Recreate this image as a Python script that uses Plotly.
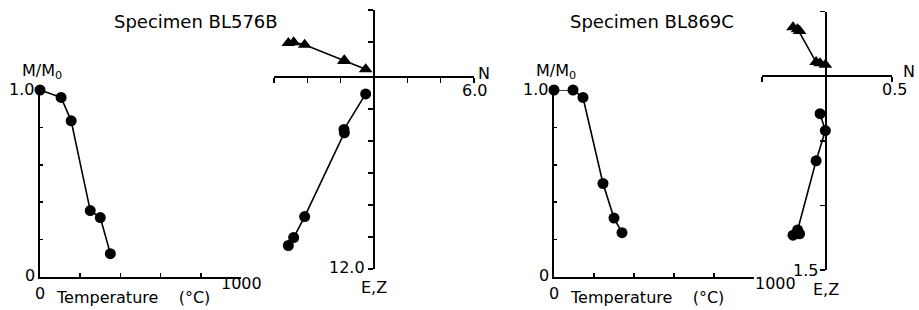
import plotly.graph_objects as go

# ---------------- data ----------------
# Thermal demagnetisation curves (M/M0 vs temperature)
temp_576 = [0, 105, 155, 250, 300, 350]
mm0_576 = [1.0, 0.96, 0.835, 0.355, 0.318, 0.125]
temp_869 = [0, 95, 145, 245, 300, 340]
mm0_869 = [1.0, 1.0, 0.96, 0.50, 0.315, 0.237]

# Orthogonal vector plots (N on horizontal; E = triangles, Z = circles, positive downwards)
n_576 = [-5.14, -4.82, -4.16, -1.78, -1.80, -0.50]
e_576 = [-2.14, -2.18, -2.03, -1.05, -1.01, -0.50]
z_576 = [10.53, 10.03, 8.72, 3.48, 3.27, 1.05]

n_869 = [-0.25, -0.20, -0.215, -0.075, -0.005, -0.045]
e_869 = [-0.38, -0.35, -0.365, -0.11, -0.09, -0.10]
z_869 = [1.23, 1.22, 1.19, 0.654, 0.42, 0.29]

titles = ["Specimen BL576B", "Specimen BL869C"]

# ---------------- layout helpers ----------------
W, H = 919, 310
FONT = "DejaVu Sans"


def xd(a, b):
    return [a / W, b / W]


def yd(top, bottom):
    return [1 - bottom / H, 1 - top / H]


def zero_pos(rng, dom):
    lo, hi = rng
    f = (0 - lo) / (hi - lo)
    return dom[0] + f * (dom[1] - dom[0])


fig = go.Figure()
line_style = dict(color="black", width=1.6)
circ = dict(color="black", size=11)
tri = dict(color="black", size=12, symbol="triangle-up")

# thermal panels
fig.add_trace(go.Scatter(x=temp_576, y=mm0_576, mode="lines+markers", xaxis="x", yaxis="y",
                         line=line_style, marker=circ, cliponaxis=False))
fig.add_trace(go.Scatter(x=temp_869, y=mm0_869, mode="lines+markers", xaxis="x3", yaxis="y3",
                         line=line_style, marker=circ, cliponaxis=False))

# vector plots
fig.add_trace(go.Scatter(x=n_576, y=e_576, mode="lines+markers", xaxis="x2", yaxis="y2",
                         line=line_style, marker=tri, cliponaxis=False))
fig.add_trace(go.Scatter(x=n_576, y=z_576, mode="lines+markers", xaxis="x2", yaxis="y2",
                         line=line_style, marker=circ, cliponaxis=False))
fig.add_trace(go.Scatter(x=n_869, y=e_869, mode="lines+markers", xaxis="x4", yaxis="y4",
                         line=line_style, marker=tri, cliponaxis=False))
fig.add_trace(go.Scatter(x=n_869, y=z_869, mode="lines+markers", xaxis="x4", yaxis="y4",
                         line=line_style, marker=circ, cliponaxis=False))

axbase = dict(showgrid=False, zeroline=False, showline=True, linecolor="black", linewidth=2,
              ticks="inside", tickcolor="black", tickwidth=1.5, showticklabels=False,
              fixedrange=True)

# thermal axes
dx1, dy1 = xd(40, 241), yd(90, 277)
dx3, dy3 = xd(554, 754), yd(90, 277)
therm_x = dict(axbase, range=[0, 1000], tickvals=[200, 400, 600, 800, 1000], ticklen=4)
therm_y = dict(axbase, range=[0, 1.0], tickvals=[0.2, 0.4, 0.6, 0.8], ticklen=3)

# vector plot axes
rx2, ry2 = [-6, 6], [12, -4.2]
dx2, dy2 = xd(274, 474), yd(10, 269)
rx4, ry4 = [-0.485, 0.5], [1.5, -0.5]
dx4, dy4 = xd(762, 892), yd(11.7, 270)

fig.update_layout(
    width=W, height=H, margin=dict(l=0, r=0, t=0, b=0),
    paper_bgcolor="white", plot_bgcolor="rgba(0,0,0,0)", showlegend=False,
    font=dict(family=FONT, size=16, color="black"),
    xaxis=dict(therm_x, domain=dx1, anchor="y"),
    yaxis=dict(therm_y, domain=dy1, anchor="x"),
    xaxis3=dict(therm_x, domain=dx3, anchor="y3"),
    yaxis3=dict(therm_y, domain=dy3, anchor="x3"),
    xaxis2=dict(axbase, domain=dx2, range=rx2, anchor="free", side="bottom",
                position=zero_pos(ry2, dy2), ticks="outside", ticklen=5,
                tickvals=[-6, -4, -2, 2, 4, 6]),
    yaxis2=dict(axbase, domain=dy2, range=ry2, anchor="free", side="left",
                position=zero_pos(rx2, dx2), ticks="outside", ticklen=5,
                tickvals=[-4.2, -2.2, 2, 4, 6, 8, 10, 12]),
    xaxis4=dict(axbase, domain=dx4, range=rx4, anchor="free", side="bottom",
                position=zero_pos(ry4, dy4), ticks="outside", ticklen=5,
                tickvals=[-0.485, 0.5]),
    yaxis4=dict(axbase, domain=dy4, range=ry4, anchor="free", side="left",
                position=zero_pos(rx4, dx4), ticks="outside", ticklen=5,
                tickvals=[-0.5, 0.5, 1.0, 1.5]),
)

ann = []


def A(text, x, y, xref, yref, xanchor="center", yanchor="middle", xshift=0, yshift=0, size=16):
    ann.append(dict(text=text, x=x, y=y, xref=xref, yref=yref, xanchor=xanchor, yanchor=yanchor,
                    xshift=xshift, yshift=yshift, showarrow=False,
                    font=dict(family=FONT, size=size, color="black")))


# titles
A(titles[0], 195.5 / W, 1 - 21.7 / H, "paper", "paper", size=18)
A(titles[1], 652 / W, 1 - 21.7 / H, "paper", "paper", size=18)

# thermal panel labels
for xa, ya, kx in (("x", "y", 0), ("x3", "y3", 1)):
    A("1.0", 0, 1.0, xa, ya, xanchor="right", xshift=-4, yshift=0)
    A("0", 0, 0, xa, ya, xanchor="right", xshift=-3, yshift=2)
    A("0", 0, 0, xa, ya, yanchor="top", yshift=-5)
    A("1000", 1000, 0, xa, ya, xanchor="center" if kx == 0 else "left",
      xshift=0 if kx == 0 else -1, yshift=-6)
    A("M/M<sub>0</sub>", 0, 1.0, xa, ya, xanchor="left", xshift=-20, yshift=18)
    A("Temperature&nbsp;&nbsp;&nbsp;&nbsp;(°C)", 0, 0, xa, ya, xanchor="left", xshift=14, yshift=-20)

# vector plot labels
A("N", 6, 0, "x2", "y2", xanchor="left", xshift=2, yshift=4)
A("6.0", 6, 0, "x2", "y2", yanchor="top", yshift=-2)
A("12.0", 0, 12, "x2", "y2", xanchor="right", xshift=-7, yshift=2)
A("E,Z", 0, 12, "x2", "y2", yshift=-18)

A("N", 0.5, 0, "x4", "y4", xanchor="left", xshift=9, yshift=5)
A("0.5", 0.5, 0, "x4", "y4", yanchor="top", xshift=2, yshift=-2)
A("1.5", 0, 1.5, "x4", "y4", xanchor="right", xshift=-6, yshift=0)
A("E,Z", 0, 1.5, "x4", "y4", yshift=-19)

fig.update_layout(annotations=ann)
fig.write_html("out.html", config={"displayModeBar": False, "staticPlot": True},
               post_script="document.body.style.margin='0';document.body.style.overflow='hidden';")
